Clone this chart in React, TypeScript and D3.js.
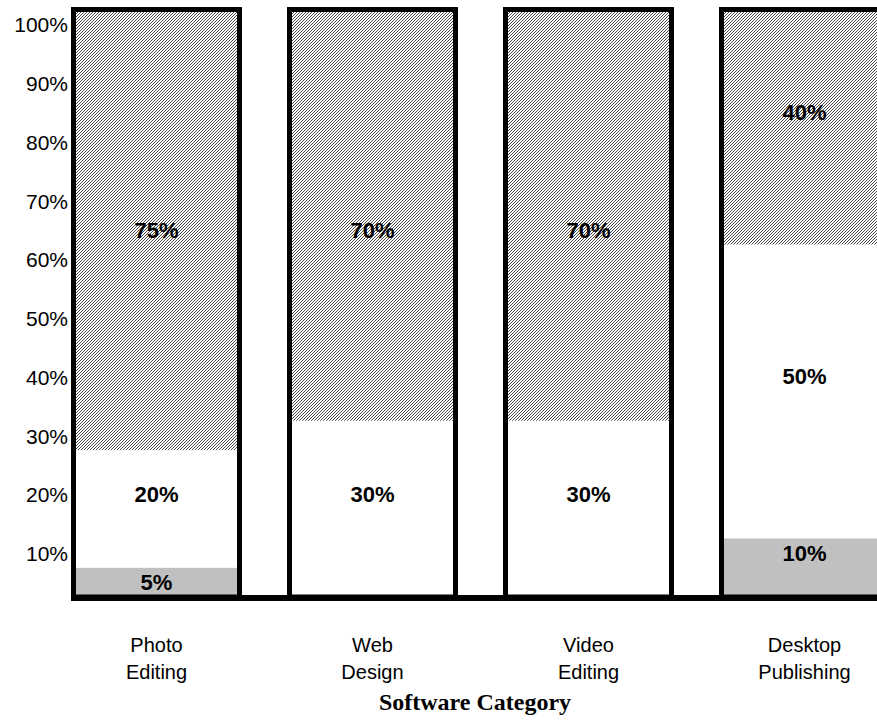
import React from "react";
import * as d3 from "d3";

// Share of users per software category, split into three response groups
const categories = ["Photo Editing", "Web Design", "Video Editing", "Desktop Publishing"];
const graySeries = [5, 0, 0, 10];
const whiteSeries = [20, 30, 30, 50];
const hatchSeries = [75, 70, 70, 40];
// Value (in %) at which each segment's label sits
const grayLabelAt = [2.5, null, null, 7.5];
const whiteLabelAt = [17.5, 17.5, 17.5, 37.5];
const hatchLabelAt = [62.5, 62.5, 62.5, 82.5];
const tickValues = [10, 20, 30, 40, 50, 60, 70, 80, 90, 100];
const axisTitle = "Software Category";

const W = 877;
const H = 723;

export default function App() {
  const x = d3
    .scaleBand<string>()
    .domain(categories)
    .range([73.5, 887.5])
    .paddingInner(50 / 216)
    .paddingOuter(0);
  const y = d3.scaleLinear().domain([0, 100]).range([597, 9.5]);

  const rows = categories.map((c, i) => ({
    cat: c,
    gray: graySeries[i],
    white: whiteSeries[i],
    hatch: hatchSeries[i],
  }));
  const keys = ["gray", "white", "hatch"];
  const stack = d3.stack<any>().keys(keys)(rows);
  const fills: Record<string, string> = {
    gray: "#c0c0c0",
    white: "#ffffff",
    hatch: "url(#hatch)",
  };
  const labelAt: Record<string, (number | null)[]> = {
    gray: grayLabelAt,
    white: whiteLabelAt,
    hatch: hatchLabelAt,
  };
  const values: Record<string, number[]> = {
    gray: graySeries,
    white: whiteSeries,
    hatch: hatchSeries,
  };

  const sans = "Arial, 'Liberation Sans', sans-serif";
  const bw = x.bandwidth();

  return (
    <svg
      width={W}
      height={H}
      viewBox={`0 0 ${W} ${H}`}
      style={{ position: "absolute", left: 0, top: 0, background: "#fff" }}
    >
      <defs>
        <pattern id="hatch" patternUnits="userSpaceOnUse" width={3} height={3}>
          <rect width={3} height={3} fill="#ffffff" />
          <path
            d="M-1,1 L1,-1 M0,3 L3,0 M2,4 L4,2"
            stroke="#4a4a4a"
            strokeWidth={1}
          />
        </pattern>
      </defs>

      {/* stacked segments */}
      {stack.map((s) => (
        <g key={s.key}>
          {s.map((d, i) => (
            <rect
              key={i}
              x={x(categories[i])}
              width={bw}
              y={y(d[1])}
              height={Math.max(0, y(d[0]) - y(d[1]))}
              fill={fills[s.key]}
            />
          ))}
        </g>
      ))}

      {/* bar outlines */}
      {categories.map((c, i) => {
        const total = graySeries[i] + whiteSeries[i] + hatchSeries[i];
        return (
          <rect
            key={c}
            x={x(c)}
            width={bw}
            y={y(total)}
            height={y(0) - y(total)}
            fill="none"
            stroke="#000"
            strokeWidth={5}
          />
        );
      })}

      {/* baseline */}
      <line x1={71} x2={W} y1={598} y2={598} stroke="#000" strokeWidth={6} />

      {/* segment labels */}
      {keys.map((k) =>
        categories.map((c, i) => {
          const at = labelAt[k][i];
          if (at == null || values[k][i] <= 0) return null;
          return (
            <text
              key={k + c}
              x={(x(c) as number) + bw / 2}
              y={y(at)}
              dy="0.35em"
              textAnchor="middle"
              fontFamily={sans}
              fontWeight="bold"
              fontSize={22}
              fill="#000"
            >
              {values[k][i]}%
            </text>
          );
        })
      )}

      {/* y tick labels */}
      {tickValues.map((t) => (
        <text
          key={t}
          x={68}
          y={y(t) + 15.5}
          dy="0.35em"
          textAnchor="end"
          fontFamily={sans}
          fontSize={21}
          fill="#000"
        >
          {t}%
        </text>
      ))}

      {/* category labels */}
      {categories.map((c) => {
        const parts = c.split(" ");
        const cx = (x(c) as number) + bw / 2;
        return (
          <text
            key={c}
            x={cx}
            textAnchor="middle"
            fontFamily={sans}
            fontSize={20}
            fill="#000"
          >
            {parts.map((p, j) => (
              <tspan key={j} x={cx} y={645 + j * 27} dy="0.35em">
                {p}
              </tspan>
            ))}
          </text>
        );
      })}

      <text
        x={475}
        y={702}
        dy="0.35em"
        textAnchor="middle"
        fontFamily="'Times New Roman', 'Liberation Serif', serif"
        fontWeight="bold"
        fontSize={24}
        fill="#000"
      >
        {axisTitle}
      </text>
    </svg>
  );
}
